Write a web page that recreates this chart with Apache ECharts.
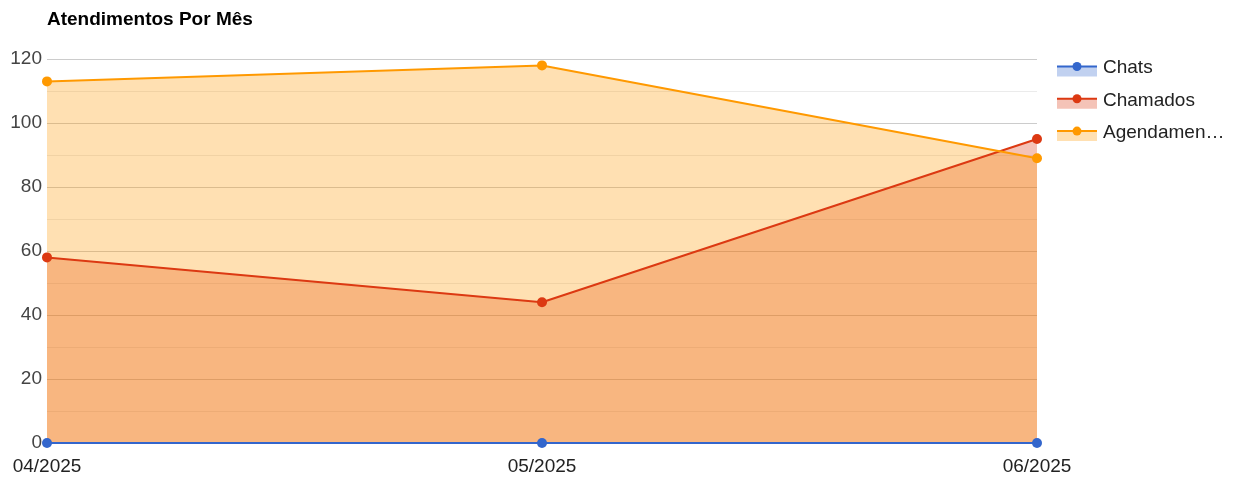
<!DOCTYPE html>
<html>
<head>
<meta charset="utf-8">
<script src="https://cdn.jsdelivr.net/npm/echarts@6/dist/echarts.min.js"></script>
<style>
html,body{margin:0;padding:0;background:#fff;}
#chart{width:1235px;height:481px;}
</style>
</head>
<body>
<div id="chart"></div>
<script>
const categories = ['04/2025', '05/2025', '06/2025'];
const seriesNames = ['Chats', 'Chamados', 'Agendamentos'];
const chats = [0, 0, 0];
const chamados = [58, 44, 95];
const agendamentos = [113, 118, 89];
const colors = ['#3366CC', '#DC3912', '#FF9900'];
const yTicks = [0, 20, 40, 60, 80, 100, 120];

const values = [chats, chamados, agendamentos];
const FONT = 'Arial, "Liberation Sans", sans-serif';
const chart = echarts.init(document.getElementById('chart'));

// Area fills (drawn underneath all lines)
const areaSeries = seriesNames.map((name, i) => ({
  name: name + '-area',
  type: 'line',
  data: values[i],
  showSymbol: false,
  symbol: 'none',
  lineStyle: { width: 0, opacity: 0 },
  areaStyle: { color: colors[i], opacity: 0.3 },
  z: 1,
  silent: true
}));

// Lines and points
const lineSeries = seriesNames.map((name, i) => ({
  name: name,
  type: 'line',
  data: values[i],
  symbol: 'circle',
  symbolSize: 10,
  showSymbol: true,
  lineStyle: { width: 2, color: colors[i] },
  itemStyle: { color: colors[i] },
  z: 3 + i
}));

const legendGraphics = [];
seriesNames.forEach((name, i) => {
  const y = 66.5 + 32.3 * i;
  legendGraphics.push(
    { type: 'rect', x: 1057, y: y, shape: { x: 0, y: 0, width: 40, height: 10 }, style: { fill: colors[i], opacity: 0.3 } },
    { type: 'line', shape: { x1: 1057, y1: y, x2: 1097, y2: y }, style: { stroke: colors[i], lineWidth: 2 } },
    { type: 'circle', shape: { cx: 1077, cy: y, r: 4.5 }, style: { fill: colors[i] } },
    { type: 'text', x: 1103, y: y + 1.5, style: { text: name, fill: '#222', font: '19px ' + FONT, verticalAlign: 'middle', width: 124, overflow: 'truncate', ellipsis: '…' } }
  );
});

chart.setOption({
  animation: false,
  title: {
    text: 'Atendimentos Por Mês',
    left: 42,
    top: 5,
    textStyle: { fontFamily: FONT, fontWeight: 'bold', fontSize: 19, color: '#000' }
  },
  grid: { left: 47, right: 198, top: 59, bottom: 38, containLabel: false },
  xAxis: {
    type: 'category',
    data: categories,
    boundaryGap: false,
    axisLine: { show: false },
    axisTick: { show: false },
    axisLabel: { color: '#222', fontSize: 19, fontFamily: FONT, margin: 14, interval: 0 },
    splitLine: { show: false }
  },
  yAxis: {
    type: 'value',
    min: yTicks[0],
    max: yTicks[yTicks.length - 1],
    interval: 20,
    axisLine: { show: false },
    axisTick: { show: false },
    axisLabel: { color: '#444', fontSize: 19, fontFamily: FONT, margin: 5 },
    splitLine: { show: true, lineStyle: { color: '#cccccc', width: 1 } },
    minorTick: { show: false, splitNumber: 2 },
    minorSplitLine: { show: true, lineStyle: { color: '#ebebeb', width: 1 } }
  },
  series: areaSeries.concat(lineSeries),
  graphic: legendGraphics
});
</script>
</body>
</html>
